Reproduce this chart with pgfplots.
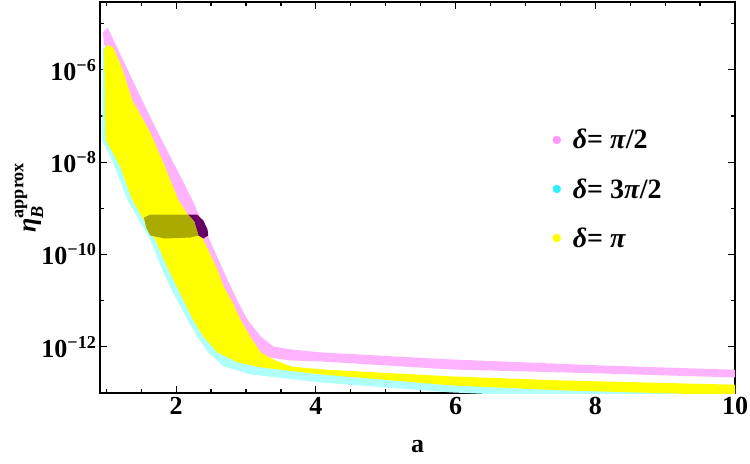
\documentclass[border=0pt]{standalone}
\usepackage{pgfplots}
\pgfplotsset{compat=1.18}
\usepackage{amsmath}
\usepackage{fontspec}
\setmainfont{Liberation Serif}

\definecolor{pinkband}{HTML}{FFB3FF}
\definecolor{cyanband}{HTML}{B0FFFF}
\definecolor{yellowband}{HTML}{FFFF00}
\definecolor{olivefit}{HTML}{AAAA00}
\definecolor{purplefit}{HTML}{660066}
\definecolor{pinkmark}{HTML}{FF99FF}
\definecolor{cyanmark}{HTML}{33EEFF}

\begin{document}
\begin{tikzpicture}
\begin{axis}[
    scale only axis,
    width=635pt, height=391pt,
    ymode=log,
    xmin=0.91, xmax=10,
    ymin=1e-13, ymax=2.95e-5,
    xtick={2,4,6,8,10},
    xticklabels={2,4,6,8,10},
    minor xtick={1,1.5,2.5,3,3.5,4.5,5,5.5,6.5,7,7.5,8.5,9,9.5},
    ytick={1e-12,1e-10,1e-8,1e-6},
    yticklabels={10\textsuperscript{−12},10\textsuperscript{−10},10\textsuperscript{−8},10\textsuperscript{−6}},
    minor ytick={1e-13,1e-11,1e-9,1e-7,1e-5},
    tick align=inside,
    major tick length=7pt,
    minor tick length=4pt,
    every tick/.style={black, line width=1.2pt},
    axis line style={line width=2.4pt},
    ticklabel style={font=\fontsize{26}{29}\selectfont\bfseries},
    xticklabel style={yshift=-1pt},
    xlabel={\textbf{a}},
    ylabel={$\textbf{\textit{η}}_{\textbf{\textit{B}}}^{\textbf{approx}}$},
    every axis x label/.style={at={(axis description cs:0.5,-0.138)}, anchor=center,
        font=\fontsize{26}{29}\selectfont\bfseries},
    every axis y label/.style={at={(axis description cs:-0.112,0.5)}, rotate=90, anchor=center,
        font=\fontsize{26}{29}\selectfont\bfseries},
    legend cell align=left,
    legend style={draw=none, fill=none, at={(axis description cs:0.708,0.685)}, anchor=north west,
        font=\fontsize{28}{31}\selectfont\bfseries, row sep=24pt,
        /tikz/every odd column/.append style={column sep=10pt}},
]
% pink band, delta = pi/2
\addplot[draw=none, fill=pinkband, forget plot] coordinates {
    (0.95,6.38e-6) (1.02,8.18e-6) (1.17,2.73e-6) (1.51,2.26e-7) (1.74,4.38e-8) (1.99,8.03e-9)
    (2.23,1.55e-9) (2.46,2.45e-10) (2.56,1.10e-10) (2.78,2.03e-11) (2.89,9.14e-12)
    (3.02,3.92e-12) (3.21,1.68e-12) (3.39,1.02e-12) (3.64,8.79e-13) (4.07,7.57e-13)
    (5.94,5.33e-13) (8.09,3.95e-13) (10.1,3.15e-13)
    (10.1,2.15e-13) (8.09,2.65e-13) (5.94,3.24e-13) (4.07,4.83e-13) (3.64,5.08e-13)
    (3.32,5.9e-13) (3.14,7.57e-13) (2.99,1.68e-12) (2.85,3.92e-12) (2.73,9.14e-12)
    (2.52,4.73e-11) (2.32,2.11e-10) (1.96,1.55e-9) (1.77,8.03e-9) (1.56,4.38e-8)
    (1.30,2.26e-7) (1.15,1.17e-6) (0.97,3.51e-6)
};
% cyan band, delta = 3pi/2
\addplot[draw=none, fill=cyanband, forget plot] coordinates {
    (0.95,3.18e-6) (0.94,3.08e-8) (1.12,8.03e-9) (1.30,1.55e-9) (1.63,2.11e-10) (1.80,4.73e-11)
    (1.91,2.03e-11) (2.16,3.92e-12) (2.30,1.68e-12) (2.46,7.57e-13) (2.68,3.77e-13)
    (3.06,2.53e-13) (4.07,1.69e-13) (5.94,1.03e-13) (7.52,8.1e-14) (10.1,5.6e-14)
    (10.1,1.2e-13) (7.52,1.5e-13) (5.94,1.8e-13) (4.07,2.9e-13) (3.21,4.2e-13)
    (2.88,5.5e-13) (2.60,9.0e-13) (2.40,2.0e-12) (2.25,4.5e-12) (2.03,2.3e-11)
    (1.90,5.5e-11) (1.72,2.5e-10) (1.40,1.9e-9) (1.22,9.5e-9) (1.03,3.5e-8)
    (1.02,2.26e-7) (1.00,3.0e-6)
};
% yellow band, delta = pi
\addplot[draw=none, fill=yellowband, forget plot] coordinates {
    (0.97,2.73e-6) (1.02,3.51e-6) (1.10,3.03e-6) (1.22,1.17e-6) (1.37,2.26e-7) (1.63,4.38e-8)
    (1.84,8.03e-9) (2.03,1.55e-9) (2.39,2.11e-10) (2.59,4.73e-11) (2.68,2.03e-11)
    (2.81,9.14e-12) (2.92,3.92e-12) (3.06,1.68e-12) (3.21,7.57e-13) (3.39,5.33e-13)
    (3.64,3.77e-13) (4.07,3.24e-13) (5.94,2.29e-13) (7.52,1.87e-13) (10.1,1.5e-13)
    (10.1,8.9e-14) (7.52,1.14e-13) (5.94,1.46e-13) (4.07,2.53e-13) (3.21,3.58e-13)
    (2.88,4.59e-13) (2.59,7.57e-13) (2.39,1.68e-12) (2.24,3.92e-12) (2.01,2.03e-11)
    (1.89,4.73e-11) (1.70,2.11e-10) (1.37,1.55e-9) (1.20,8.03e-9) (0.99,3.08e-8)
    (0.98,2.26e-7)
};
% points allowed by the observed asymmetry
\addplot[draw=none, fill=purplefit, forget plot] coordinates {
    (2.17,7.35e-10) (2.30,7.35e-10) (2.39,5.44e-10) (2.45,3.47e-10) (2.46,2.58e-10)
    (2.39,2.22e-10) (2.32,2.58e-10) (2.26,5.18e-10)
};
\addplot[draw=none, fill=olivefit, forget plot] coordinates {
    (1.54,6.3e-10) (1.63,7.35e-10) (2.17,7.35e-10) (2.26,5.18e-10) (2.32,2.58e-10)
    (2.20,2.33e-10) (1.84,2.22e-10) (1.63,2.58e-10) (1.57,3.84e-10)
};
\addlegendimage{only marks, mark=*, mark size=4pt, color=pinkmark}
\addlegendimage{only marks, mark=*, mark size=4pt, color=cyanmark}
\addlegendimage{only marks, mark=*, mark size=4pt, color=yellowband}
\legend{\textit{δ}= \textit{π}/2, \textit{δ}= 3\textit{π}/2, \textit{δ}= \textit{π}}
\end{axis}
\pgfresetboundingbox
\path[use as bounding box] ([shift={(-100pt,-70pt)}]current axis.south west) rectangle ([shift={(15pt,2pt)}]current axis.north east);
\end{tikzpicture}
\end{document}
